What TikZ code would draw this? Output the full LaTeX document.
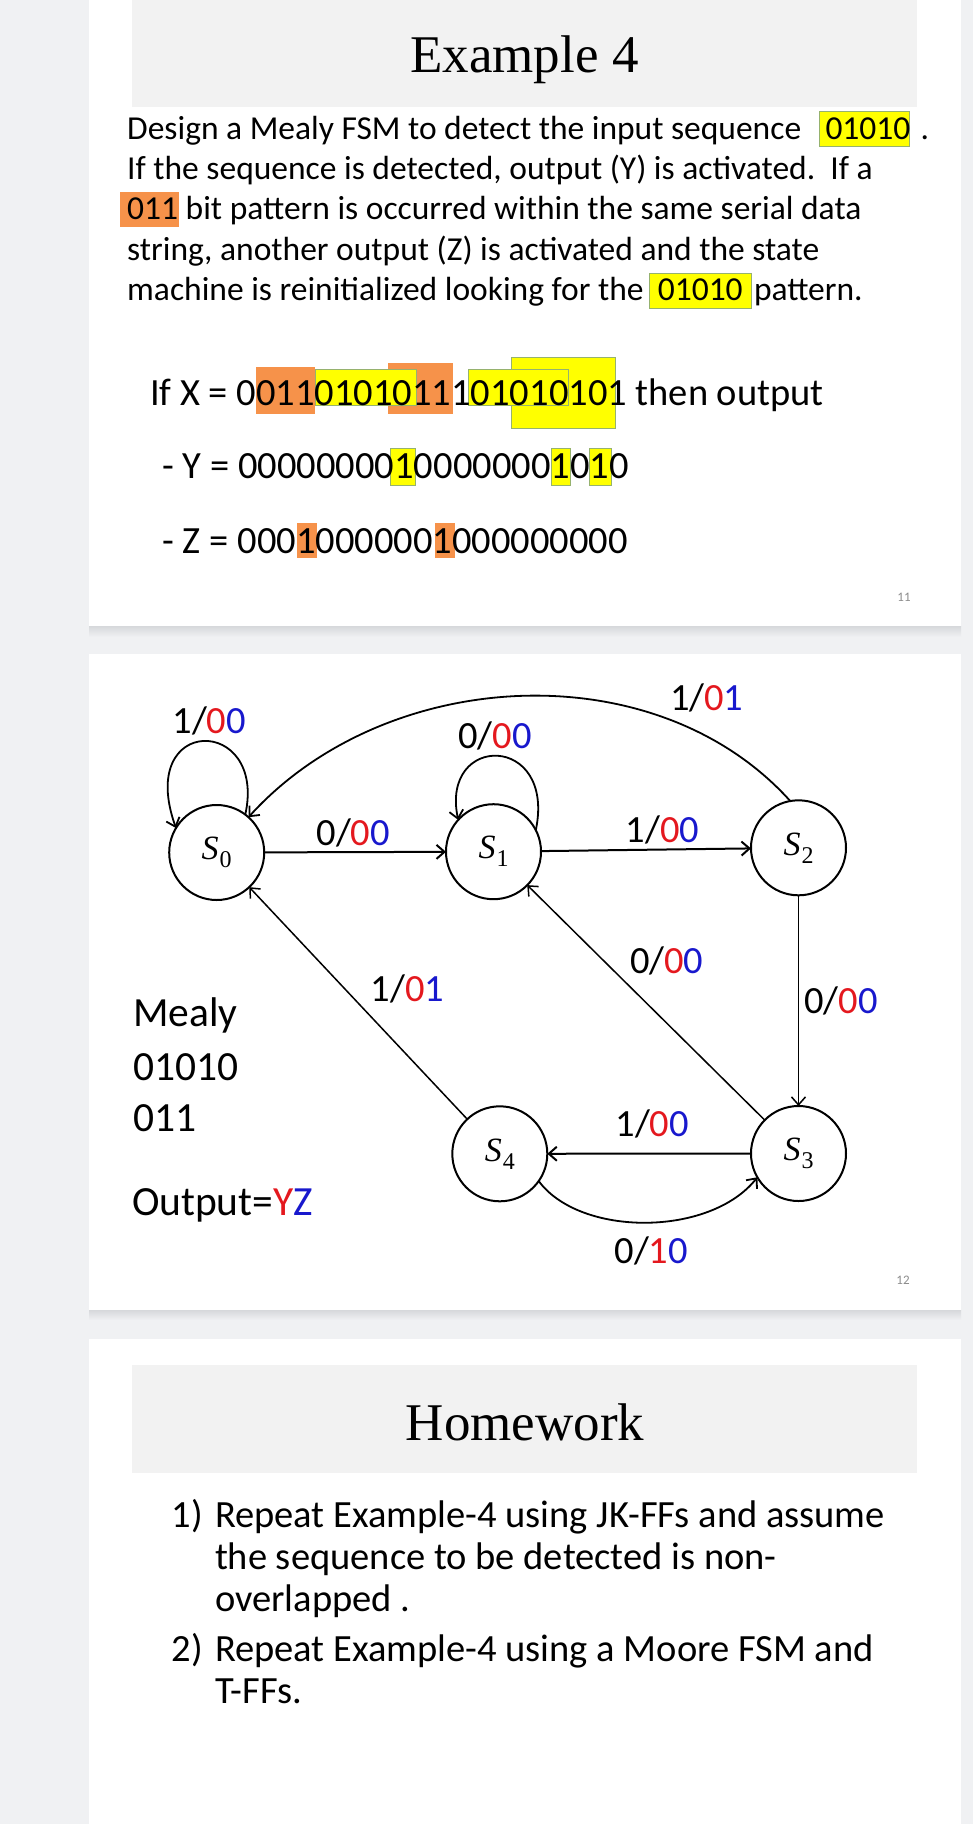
\documentclass[tikz,border=0pt]{standalone}
\usepackage{fontspec}
\setmainfont{Carlito}
\newfontfamily\titlefont{Liberation Serif}
\usetikzlibrary{arrows.meta}
\definecolor{bgout}{RGB}{240,241,243}
\definecolor{titlebg}{RGB}{242,242,242}
\definecolor{shadowgray}{RGB}{214,216,219}
\definecolor{hlyellow}{RGB}{255,255,0}
\definecolor{hlborder}{RGB}{150,178,110}
\definecolor{hlorange}{RGB}{246,146,74}
\definecolor{lblred}{RGB}{228,24,30}
\definecolor{lblblue}{RGB}{24,24,205}
\definecolor{pagegray}{RGB}{140,140,140}
\newcommand{\setfs}[1]{\fontsize{#1}{#1}\selectfont}
\newcommand{\trans}[3]{#1/\textcolor{lblred}{#2}\textcolor{lblblue}{#3}}
\newcommand{\stname}[1]{{\titlefont\itshape S}\kern1pt\raisebox{-8pt}{\titlefont\setfs{24}#1}}
\begin{document}
\begin{tikzpicture}[x=1pt,y=-1pt,
  txt/.style={inner sep=0pt, outer sep=0pt, anchor=base west},
  para/.style={txt, font=\setfs{33.5}},
  big/.style={txt, font=\setfs{38.5}},
  side/.style={txt, font=\setfs{41.5}},
  titletxt/.style={inner sep=0pt, anchor=base, font=\titlefont\setfs{53}},
  state/.style={circle, draw, line width=2pt, minimum size=95pt, inner sep=0pt, outer sep=0pt, font=\setfs{34}},
  edge/.style={line width=2pt, -{Straight Barb[length=8pt,width=14pt]}},
  thinedge/.style={edge, line width=1.5pt},
  lbl/.style={inner sep=0pt, anchor=base, font=\setfs{38.5}},
  ybox/.style={fill=hlyellow, draw=hlborder, line width=0.8pt},
  obox/.style={fill=hlorange},
  pagenum/.style={inner sep=0pt, font=\setfs{13}, text=pagegray}]
\useasboundingbox (0,0) rectangle (973,1824);
% backgrounds
\fill[bgout] (0,0) rectangle (973,1824);
\fill[white] (89,0) rectangle (961,626);
\shade[top color=shadowgray, bottom color=bgout] (89,626) rectangle (961,637);
\fill[white] (89,654) rectangle (961,1310);
\shade[top color=shadowgray, bottom color=bgout] (89,1310) rectangle (961,1320);
\fill[white] (89,1339) rectangle (961,1824);
\fill[titlebg] (132,0) rectangle (917,107);
\fill[titlebg] (132,1365) rectangle (917,1473);

% ---------- slide 1 ----------
\node[titletxt] (t1) at (524.4,72.7) {Example 4};

\node[para] (p1) at (127.2,139.3) {Design a Mealy FSM to detect the input sequence};
\node[ybox, minimum width=90pt, minimum height=35.3pt, inner sep=0pt, anchor=north west] (p1h) at (819,110.7) {};
\node[para] (p1d) at (825.5,139.3) {01010};
\node[para] (p1e) at (920.5,139.3) {.};
\node[para] (p2) at (127.2,179.5) {If the sequence is detected, output (Y) is activated.\ \ If a};
\fill[obox] (119.8,192.3) rectangle (178.7,226.7);
\node[para] (p3) at (127.2,219.7) {011 bit pattern is occurred within the same serial data};
\node[para] (p4) at (127.2,260) {string, another output (Z) is activated and the state};
\node[para] (p5) at (127.2,300) {machine is reinitialized looking for the};
\node[ybox, minimum width=102.3pt, minimum height=35.6pt, inner sep=0pt, anchor=north west] (p5h) at (648.5,272.7) {};
\node[para] (p5d) at (657.8,300) {01010};
\node[para] (p5e) at (754,300) {pattern.};

% X line highlights
\fill[obox] (388.3,363.3) rectangle (453.3,414.3);
\fill[obox] (256,366.7) rectangle (315,414.3);
\filldraw[ybox] (511.7,357.3) rectangle (615,428.3);
\filldraw[ybox] (315,369.3) rectangle (416.7,405.5);
\filldraw[ybox] (468.3,369.3) rectangle (568.3,405.5);
\node[big] (xl) at (150,405) {If X = 00110101011101010101 then output};

% Y line
\filldraw[ybox] (390.7,448.3) rectangle (415,485);
\filldraw[ybox] (551.7,448.3) rectangle (570.7,485);
\filldraw[ybox] (589.3,448.3) rectangle (611.7,485);
\node[big] (yl) at (162.5,478.3) {- Y = 00000000100000001010};

% Z line
\fill[obox] (296.7,522.7) rectangle (316.7,558.3);
\fill[obox] (435,522.7) rectangle (455,558.3);
\node[big] (zl) at (162.5,553.3) {- Z = 00010000001000000000};

\node[pagenum] (pg11) at (904,597) {11};

% ---------- slide 2 ----------
\node[state] (S0) at (216.7,852.5) {\stname{0}};
\node[state] (S1) at (493.5,851.7) {\stname{1}};
\node[state] (S2) at (798.5,847.8) {\stname{2}};
\node[state] (S3) at (798.5,1153.5) {\stname{3}};
\node[state] (S4) at (499.8,1153.8) {\stname{4}};

\draw[edge] (S0) -- (S1);
\draw[edge] (S1) -- (S2);
\draw[thinedge] (S2) -- (S3);
\draw[thinedge] (S3) -- (S1);
\draw[thinedge] (S4) -- (S0);
\draw[edge] (S3) -- (S4);
\draw[edge, line width=1.8pt] (S0.53) .. controls +(22,-99.3) and +(-40.7,-114.3) .. (S0.149);
\draw[edge, line width=1.8pt] (S1.27) .. controls +(20.2,-97.1) and +(-18.2,-86.9) .. (S1.138);
\draw[edge, line width=1.8pt] (S2.100) .. controls +(-135,-150.1) and +(137.2,-151.3) .. (S0.48);
\draw[edge, line width=1.8pt] (S4.-35) .. controls +(41.3,56) and +(-47.4,59.7) .. (S3.210);

\node[lbl] (l00) at (209.2,733.3) {\trans{1}{0}{0}};
\node[lbl] (l01) at (353.3,845) {\trans{0}{0}{0}};
\node[lbl] (l11) at (495,748.3) {\trans{0}{0}{0}};
\node[lbl] (l20) at (706.7,710) {\trans{1}{0}{1}};
\node[lbl] (l12) at (662.5,842.7) {\trans{1}{0}{0}};
\node[lbl] (l23) at (840.8,1013) {\trans{0}{0}{0}};
\node[lbl] (l31) at (666.7,973.3) {\trans{0}{0}{0}};
\node[lbl] (l40) at (407.4,1001.7) {\trans{1}{0}{1}};
\node[lbl] (l34) at (652.2,1136) {\trans{1}{0}{0}};
\node[lbl] (l43) at (651.3,1263.3) {\trans{0}{1}{0}};

\node[side] (mealy) at (133.4,1026.7) {Mealy};
\node[side] (seq1) at (133.4,1080) {01010};
\node[side] (seq2) at (133.4,1131.7) {011};
\node[side] (outp) at (132,1215) {Output=\textcolor{lblred}{Y}\textcolor{lblblue}{Z}};

\node[pagenum] (pg12) at (903,1280.5) {12};

% ---------- slide 3 ----------
\node[titletxt] (t3) at (525,1440) {Homework};
\node[big] (h1n) at (171.7,1527) {1)};
\node[big] (h1a) at (215,1527) {Repeat Example-4 using JK-FFs and assume};
\node[big] (h1b) at (215,1569) {the sequence to be detected is non-};
\node[big] (h1c) at (215,1611) {overlapped .};
\node[big] (h2n) at (171.7,1661) {2)};
\node[big] (h2a) at (215,1661) {Repeat Example-4 using a Moore FSM and};
\node[big] (h2b) at (215,1703) {T-FFs.};
\end{tikzpicture}
\end{document}
